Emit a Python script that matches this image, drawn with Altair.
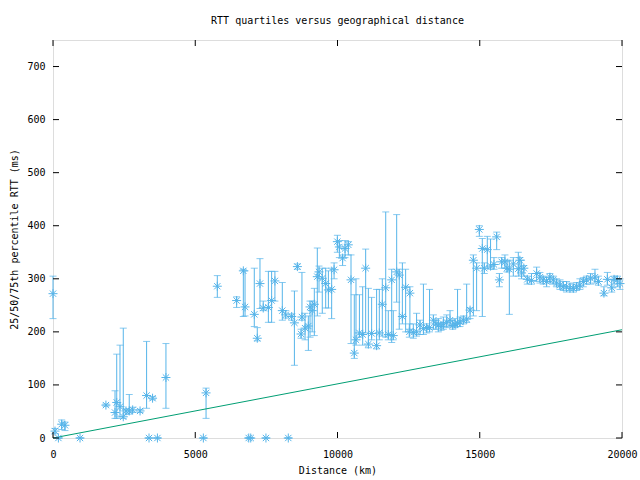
import altair as alt
import pandas as pd

dist = [0, 70, 190, 305, 420, 950, 1860, 2180, 2240, 2355, 2470, 2565, 2680, 2800, 3060,
        3290, 3375, 3500, 3670, 3970, 5285, 5380, 5775, 6455, 6690, 6750, 6880, 6950,
        7075, 7180, 7275, 7390, 7485, 7570, 7685, 7800, 8060, 8180, 8270, 8390, 8485,
        8590, 8720, 8750, 8860, 8975, 9035, 9110, 9185, 9290, 9350, 9465, 9585, 9680,
        9795, 9880, 9995, 10065, 10180, 10265, 10380, 10475, 10590, 10650, 10770, 10885,
        10990, 11085, 11200, 11375, 11470, 11575, 11695, 11785, 11905, 11960, 12080,
        12170, 12280, 12395, 12525, 12545, 12665, 12780, 12900, 13020, 13135, 13235,
        13370, 13460, 13545, 13640, 13720, 13840, 13955, 14050, 14130, 14220, 14305,
        14425, 14540, 14660, 14775, 14890, 14985, 15090, 15160, 15265, 15380, 15500,
        15595, 15690, 15770, 15885, 15960, 16040, 16180, 16355, 16410, 16470, 16550,
        16670, 16820, 17000, 17115, 17230, 17350, 17465, 17585, 17700, 17820, 17935,
        18050, 18170, 18290, 18405, 18520, 18640, 18755, 18895, 19050, 19170, 19365,
        19485, 19640, 19720, 19835, 19930]
median = [272, 13, 0, 26, 24, 0, 62, 48, 67, 59, 40, 51, 51, 53, 51,
          80, 0, 75, 0, 114, 0, 85, 286, 259, 315, 247, 0, 0,
          233, 188, 291, 245, 0, 246, 259, 296, 240, 232, 0, 229, 217,
          323, 196, 228, 207, 211, 247, 240, 252, 304, 313, 301, 291, 279,
          280, 317, 370, 360, 339, 357, 364, 298, 160, 185, 198, 195,
          320, 177, 197, 174, 198, 252, 283, 195, 298, 193, 313,
          307, 229, 284, 200, 273, 199, 200, 213, 206, 208, 208,
          222, 215, 213, 210, 215, 218, 222, 212, 215, 216, 219,
          222, 224, 241, 335, 320, 393, 357, 320, 355, 324, 327,
          379, 298, 332, 332, 320, 318, 328, 319, 335, 311, 320,
          299, 297, 310, 303, 298, 295, 303, 298, 292, 288, 285,
          285, 282, 282, 285, 288, 295, 298, 301, 303, 295, 273,
          299, 283, 299, 298, 291]
q25 = [225, 8, 0, 16, 14, 0, 60, 37, 37, 40, 37, 45, 45, 48, 48,
       56, 0, 72, 0, 56, 0, 37, 265, 246, 229, 230, 0, 0,
       210, 183, 244, 240, 0, 218, 218, 258, 222, 226, 0, 222, 137,
       318, 188, 222, 185, 165, 190, 200, 193, 230, 275, 235, 245, 245,
       225, 300, 350, 340, 325, 340, 345, 178, 150, 175, 190, 175,
       198, 170, 185, 168, 185, 192, 190, 185, 180, 185, 256,
       205, 215, 200, 190, 205, 188, 192, 195, 195, 198, 200,
       205, 205, 200, 203, 205, 208, 210, 205, 208, 210, 210,
       215, 218, 225, 230, 240, 380, 229, 310, 320, 318, 318,
       355, 285, 320, 320, 313, 233, 305, 305, 318, 300, 305,
       290, 290, 295, 292, 290, 285, 292, 290, 285, 280, 278,
       275, 278, 275, 278, 280, 285, 290, 290, 292, 288, 268,
       288, 275, 290, 285, 280]
q75 = [305, 18, 0, 34, 30, 0, 64, 89, 158, 175, 207, 55, 82, 58, 54,
       182, 0, 78, 0, 178, 0, 94, 306, 266, 318, 315, 0, 0,
       320, 208, 338, 258, 0, 314, 314, 314, 293, 240, 0, 234, 277,
       328, 205, 312, 235, 230, 258, 258, 282, 358, 324, 320, 320, 315,
       320, 330, 382, 372, 345, 372, 370, 345, 270, 300, 270, 285,
       356, 282, 265, 280, 280, 300, 426, 240, 318, 240, 421,
       318, 330, 318, 215, 285, 215, 235, 222, 290, 215, 280,
       232, 222, 225, 218, 228, 232, 240, 222, 225, 280, 228,
       230, 290, 245, 345, 330, 400, 376, 330, 380, 375, 340,
       388, 310, 340, 345, 335, 335, 340, 350, 340, 335, 325,
       305, 310, 322, 312, 305, 303, 310, 305, 300, 298, 295,
       295, 292, 290, 293, 300, 302, 305, 310, 318, 305, 285,
       312, 298, 305, 305, 300]

line_dist = [0, 20000]
line_rtt = [0, 204]

x_ticks = [0, 5000, 10000, 15000, 20000]
y_ticks = [0, 100, 200, 300, 400, 500, 600, 700]

W, H = 569, 398
FONT = "DejaVu Sans Mono"
BLUE = "#56b4e9"
GREEN = "#009e73"

df = pd.DataFrame({"dist": dist, "med": median, "lo": q25, "hi": q75})
ldf = pd.DataFrame({"dist": line_dist, "rtt": line_rtt})
xt = pd.DataFrame({"v": x_ticks})
yt = pd.DataFrame({"v": y_ticks})

xscale = alt.Scale(domain=[0, 20000], nice=False, zero=False)
yscale = alt.Scale(domain=[0, 750], nice=False)

xaxis = alt.Axis(values=x_ticks, format="d", grid=False, ticks=False, domain=False,
                 labelFont=FONT, labelFontSize=10, labelColor="black",
                 labelPadding=11, title="Distance (km)", titleFont=FONT,
                 titleFontSize=10, titleFontWeight="normal", titleColor="black",
                 titlePadding=6, labelFlush=False)
yaxis = alt.Axis(values=y_ticks, format="d", grid=False, ticks=False, domain=False,
                 labelFont=FONT, labelFontSize=10, labelColor="black",
                 labelPadding=8, title="25/50/75th percentile RTT (ms)",
                 titleFont=FONT, titleFontSize=10, titleFontWeight="normal",
                 titleColor="black", titlePadding=7, labelFlush=False)

base = alt.Chart(df)

bars = base.mark_rule(color=BLUE, strokeWidth=1).encode(
    x=alt.X("dist:Q", scale=xscale, axis=xaxis),
    y=alt.Y("lo:Q", scale=yscale, axis=yaxis),
    y2="hi:Q",
)
cap_lo = base.mark_tick(color=BLUE, orient="horizontal", size=7, thickness=1).encode(
    x=alt.X("dist:Q", scale=xscale), y=alt.Y("lo:Q", scale=yscale))
cap_hi = base.mark_tick(color=BLUE, orient="horizontal", size=7, thickness=1).encode(
    x=alt.X("dist:Q", scale=xscale), y=alt.Y("hi:Q", scale=yscale))

star = "M-1,0L1,0M0,-1L0,1M-0.7,-0.7L0.7,0.7M-0.7,0.7L0.7,-0.7"
points = base.mark_point(shape=star, size=81, color=BLUE, strokeWidth=1,
                         filled=False, opacity=1).encode(
    x=alt.X("dist:Q", scale=xscale), y=alt.Y("med:Q", scale=yscale))

line = alt.Chart(ldf).mark_line(color=GREEN, strokeWidth=1).encode(
    x=alt.X("dist:Q", scale=xscale), y=alt.Y("rtt:Q", scale=yscale))

TL = 6
xt_bot = alt.Chart(xt).mark_rule(color="black").encode(
    x=alt.X("v:Q", scale=xscale), y=alt.value(H), y2=alt.value(H - TL))
xt_top = alt.Chart(xt).mark_rule(color="black").encode(
    x=alt.X("v:Q", scale=xscale), y=alt.value(0), y2=alt.value(TL))
yt_l = alt.Chart(yt).mark_rule(color="black").encode(
    y=alt.Y("v:Q", scale=yscale), x=alt.value(0), x2=alt.value(TL))
yt_r = alt.Chart(yt).mark_rule(color="black").encode(
    y=alt.Y("v:Q", scale=yscale), x=alt.value(W), x2=alt.value(W - TL))

chart = alt.layer(bars, cap_lo, cap_hi, line, points,
                  xt_bot, xt_top, yt_l, yt_r).properties(
    width=W, height=H,
    title=alt.TitleParams("RTT quartiles versus geographical distance",
                          font=FONT, fontSize=10, fontWeight="normal",
                          color="black", offset=14),
    padding={"left": 53, "top": 40, "right": 18, "bottom": 42},
    autosize=alt.AutoSizeParams(type="none"),
).configure_view(stroke="black", strokeWidth=1).configure(background="white")

chart.save("out.html", embed_options={"renderer": "svg", "actions": False})
